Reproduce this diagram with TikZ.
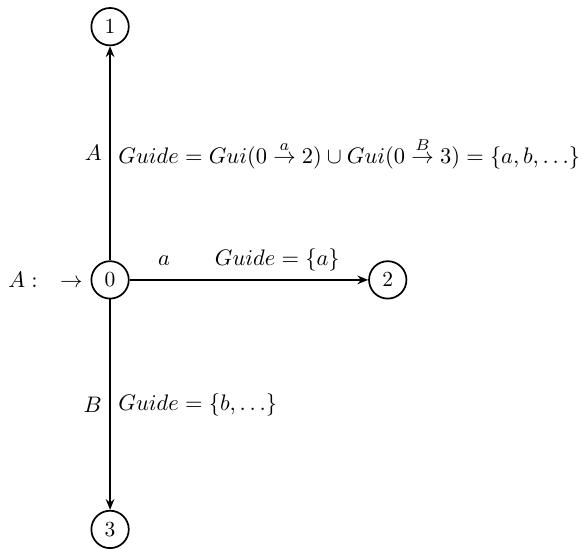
\documentclass[tikz,border=0pt]{standalone}
\usepackage{amsmath,amssymb}
\usetikzlibrary{positioning, arrows.meta}

\tikzset{
    state/.style={circle, draw, thick, minimum size=17.4pt, inner sep=1pt},
    trans/.style={thick, -{Stealth[length=5pt, width=4pt]}},
    lbl/.style={scale=1.045}
}

\begin{document}
\begin{tikzpicture}
    % fixed page size
    \useasboundingbox (-51.2pt,-125.1pt) rectangle (220pt,130.2pt);

    % States
    \node[state] (q0) at (0,0) {$0$};
    \node[state] (q1) [above=3.5cm of q0] {$1$};
    \node[state] (q2) [right=3.9cm of q0] {$2$};
    \node[state] (q3) [below=3.44cm of q0] {$3$};

    % Initial marker
    \node[lbl, left=0pt of q0] (init) {$A:\quad\rightarrow$};

    % Transitions
    \draw[trans] (q0) -- (q1)
        node[lbl, midway, left] {$A$}
        node[lbl, midway, right] {$Guide = Gui(0 \stackrel{a}{\rightarrow} 2) \cup Gui(0 \stackrel{B}{\rightarrow} 3) = \{a,b,\ldots\}$};
    \draw[trans] (q0) -- (q2)
        node[lbl, midway, above] {$a \qquad Guide = \{a\}$};
    \draw[trans] (q0) -- (q3)
        node[lbl, midway, left] {$B$}
        node[lbl, midway, right] {$Guide = \{b,\ldots\}$};
\end{tikzpicture}
\end{document}
